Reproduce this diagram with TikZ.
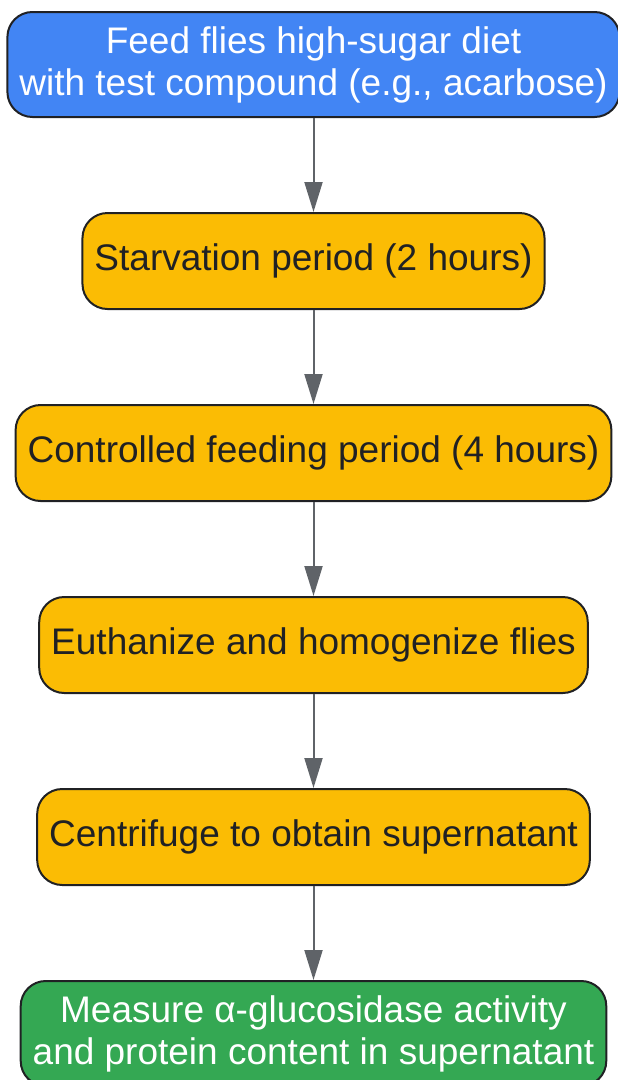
\documentclass[tikz,border=0pt]{standalone}
\usepackage{fontspec}
\setmainfont{Liberation Sans}
\usetikzlibrary{positioning, arrows.meta}
\definecolor{stepblue}{HTML}{4285F4}
\definecolor{stepyellow}{HTML}{FBBC04}
\definecolor{stepgreen}{HTML}{34A853}
\definecolor{edgedark}{HTML}{202124}
\definecolor{arrowgray}{HTML}{5F6368}

\begin{document}
\begin{tikzpicture}[x=1pt, y=1pt, node distance=94pt,
	box/.style={draw=edgedark, line width=2pt, rounded corners=25pt, minimum height=96pt,
		inner xsep=12pt, align=center, font=\fontsize{37}{42}\selectfont, text=edgedark, fill=stepyellow},
	flow/.style={draw=arrowgray, line width=2pt, -{Triangle[length=30pt, width=18pt]}}]
			\useasboundingbox (0,0) rectangle (618,-1080);

			% Steps of the assay
			\node[box, fill=stepblue, text=white, minimum height=105pt] (feed) at (313.5,-64.5)
				{Feed flies high-sugar diet\\with test compound (e.g., acarbose)};
			\node[box, below=of feed] (starve) {Starvation period (2 hours)};
			\node[box, below=of starve] (feeding) {Controlled feeding period (4 hours)};
			\node[box, below=of feeding] (homog) {Euthanize and homogenize flies};
			\node[box, below=of homog] (spin) {Centrifuge to obtain supernatant};
			\node[box, below=of spin, fill=stepgreen, text=white, minimum height=105pt] (measure)
				{Measure α-glucosidase activity\\and protein content in supernatant};

			% Draw arrows
			\draw[flow] (feed) -- (starve);
			\draw[flow] (starve) -- (feeding);
			\draw[flow] (feeding) -- (homog);
			\draw[flow] (homog) -- (spin);
			\draw[flow] (spin) -- (measure);
		\end{tikzpicture}
\end{document}
